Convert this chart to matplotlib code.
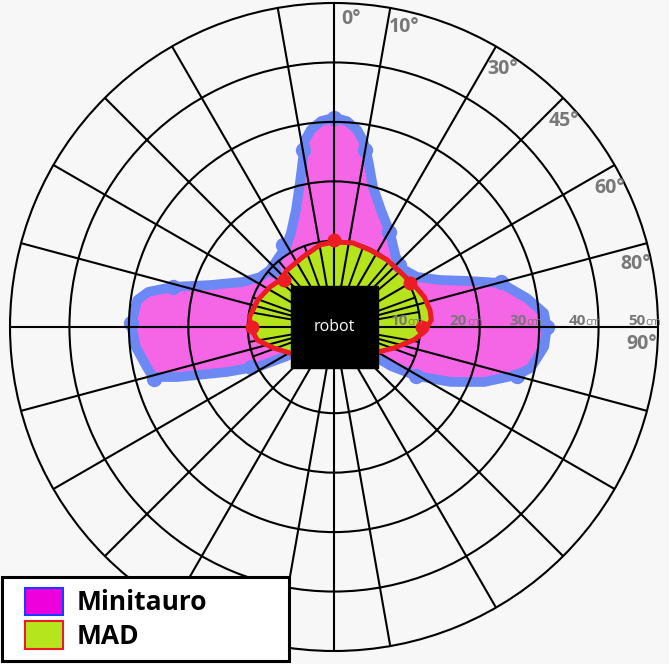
import numpy as np
import matplotlib
matplotlib.use("Agg")
import matplotlib.pyplot as plt
import matplotlib.patches as mpatches
from matplotlib.legend_handler import HandlerPatch
from matplotlib.transforms import ScaledTranslation

plt.rcParams['font.family'] = ['Open Sans', 'DejaVu Sans']

# Minitauro detection outline, clockwise from the back-left corner of the robot (deg, cm)
mini_theta = [-121.7, -117.8, -112.8, -107.7, -105.4, -102.1, -95.8, -89.4, -82.2, -79.3,
              -76.0, -71.3, -63.7, -56.0, -48.3, -31.0, -24.6, -18.0, -13.3, -9.6,
              -8.8, -6.7, -3.6, 0.0, 3.6, 6.7, 8.8, 10.2, 12.2, 15.6,
              21.9, 30.8, 41.5, 50.8, 58.9, 66.1, 70.9, 75.2, 81.5, 86.2,
              90.3, 95.4, 101.8, 104.7, 110.1, 115.2, 120.6, 124.4, 125.1]
mini_r = [4.8, 9.6, 15.0, 23.2, 27.1, 27.7, 29.0, 29.6, 28.9, 27.3,
          23.4, 17.5, 12.6, 10.5, 9.9, 11.2, 12.9, 16.2, 20.4, 25.7,
          27.3, 28.9, 30.2, 30.7, 30.2, 28.9, 27.3, 25.8, 23.4, 19.9,
          16.7, 13.9, 11.2, 10.7, 11.8, 15.0, 19.2, 24.5, 28.3, 30.9,
          31.3, 31.0, 29.3, 27.3, 22.4, 17.2, 11.7, 7.1, 5.2]
# measured points
mini_pts_theta = [0, -10, 10, -32, 30, -47, 46, -76, 75, -89, 90, -106, 105, -116, 121]
mini_pts_r = [30.7, 25.7, 25.8, 11.7, 14.0, 9.6, 10.6, 23.4, 24.5, 29.6, 31.3, 27.0, 27.3, 11.0, 11.5]

# MAD detection outline
mad_theta = [-120.6, -109.0, -99.6, -90.0, -83.2, -70.4, -58.0, -49.0, -39.5, -23.9,
             -9.7, 0.0, 12.7, 25.1, 38.3, 51.1, 62.3, 71.6, 80.0, 85.9,
             93.2, 99.2, 109.3, 119.6]
mad_r = [4.1, 6.3, 8.6, 9.6, 9.8, 9.1, 8.2, 7.5, 7.9, 8.4,
         9.5, 9.8, 10.0, 9.8, 9.9, 10.0, 10.7, 11.5, 11.9, 11.9,
         10.7, 9.1, 6.2, 4.0]
mad_pts_theta = [-90, -47, 0, 60, 90]
mad_pts_r = [9.3, 7.0, 10.1, 10.2, 10.3]

spoke_angles = [0, 10, 30, 45, 60, 75, 90, 105, 120, 135, 150, 170, 180,
                190, 210, 225, 240, 255, 270, 285, 300, 315, 330, 350]
angle_labels = ["0°", "10°", "30°", "45°", "60°", "80°", "90°"]
angle_label_at = [0, 10, 30, 45, 60, 75, 90]
ring_values = [10, 20, 30, 40, 50]

BG = '#f7f7f7'
PINK = '#f566e6'
BLUE = '#6b88f5'
GREEN = '#b5e41d'
RED = '#ec1c24'
GRAY = '#787878'


def closed(theta, r):
    # close the area through the robot's centre (hidden by the box)
    t = np.deg2rad(np.r_[-180, theta, 180])
    return t, np.r_[0, r, 0]


fig = plt.figure(figsize=(6.69, 6.64), dpi=100, facecolor=BG)
ax = fig.add_axes([10 / 669, 13 / 664, 648 / 669, 648 / 664], projection='polar', facecolor=BG)
ax.set_theta_zero_location('N')
ax.set_theta_direction(-1)
ax.set_rorigin(-4.5)
ax.set_ylim(0, 50)

ax.set_xticks(np.deg2rad(spoke_angles))
ax.set_yticks(ring_values[:-1])
ax.set_xticklabels([])
ax.set_yticklabels([])
ax.tick_params(length=0)
ax.grid(True, color='black', linewidth=1.5)
ax.spines['polar'].set_color('black')
ax.spines['polar'].set_linewidth(1.5)
ax.spines['inner'].set_visible(False)

# short spokes in the near zone
for a in range(-120, 121, 10):
    if a % 360 not in spoke_angles:
        ax.plot(np.deg2rad([a, a]), [0, 10], color='black', lw=1.4, zorder=1.5)

# Minitauro
t, r = closed(mini_theta, mini_r)
ax.fill(t, r, color=PINK, lw=0, zorder=1)
ax.plot(np.deg2rad(mini_theta), mini_r, color=BLUE, lw=7, zorder=1.2,
        solid_joinstyle='round', solid_capstyle='round')
ax.plot(np.deg2rad(mini_pts_theta), mini_pts_r, 'o', color=BLUE, ms=10, zorder=1.2)

# MAD
t, r = closed(mad_theta, mad_r)
ax.fill(t, r, color=GREEN, lw=0, zorder=1.1)
ax.plot(np.deg2rad(mad_theta), mad_r, color=RED, lw=3.6, zorder=2,
        solid_joinstyle='round', solid_capstyle='round')
ax.plot(np.deg2rad(mad_pts_theta), mad_pts_r, 'o', color=RED, ms=9, zorder=2)

# robot body
ax.add_patch(mpatches.Rectangle((0.4336, 0.4367), 0.1343, 0.1265, transform=ax.transAxes,
                                color='black', zorder=5, clip_on=False))
ax.text(0.5, 0.5, 'robot', transform=ax.transAxes, color='white', fontsize=11.5,
        ha='center', va='center', zorder=6, clip_on=False)

# angle labels
for lab, a in zip(angle_labels, angle_label_at):
    ax.text(np.deg2rad(a + 3.2), 47.4, lab, color=GRAY, fontsize=14, fontweight='bold',
            ha='center', va='center')

# distance labels along the 90° spoke
unit_shift = ax.transData + ScaledTranslation(2.2 / 72, 1.4 / 72, fig.dpi_scale_trans)
num_shift = ax.transData + ScaledTranslation(-9.0 / 72, 1.4 / 72, fig.dpi_scale_trans)
for v in ring_values:
    ax.text(np.pi / 2, v, 'cm', transform=unit_shift, color=GRAY, fontsize=8,
            ha='right', va='baseline', zorder=6)
    ax.text(np.pi / 2, v, str(v), transform=num_shift, color=GRAY, fontsize=11,
            fontweight='bold', ha='right', va='baseline', zorder=6)


def square(legend, orig_handle, xdescent, ydescent, width, height, fontsize):
    return mpatches.Rectangle((-xdescent + 8.6, -ydescent), width - 8.6, height)


handles = [mpatches.Patch(facecolor='#ee00dd', edgecolor='#1a3cff', lw=1.5),
           mpatches.Patch(facecolor='#b5e61d', edgecolor='#ed1c24', lw=1.5)]
leg = fig.legend(handles, ['Minitauro', 'MAD'], loc='lower left',
                 bbox_to_anchor=(2 / 669, 3 / 664, 287 / 669, 0.14), mode='expand',
                 borderaxespad=0, prop={'weight': 'bold', 'size': 19},
                 handlelength=1.89, handleheight=1.21, labelspacing=0.2,
                 handletextpad=0.53, borderpad=0.42, fancybox=False,
                 edgecolor='black', facecolor='white', framealpha=1,
                 handler_map={mpatches.Patch: HandlerPatch(patch_func=square)})
leg.get_frame().set_linewidth(2.2)

fig.savefig('out.png', dpi=100, facecolor=BG)
